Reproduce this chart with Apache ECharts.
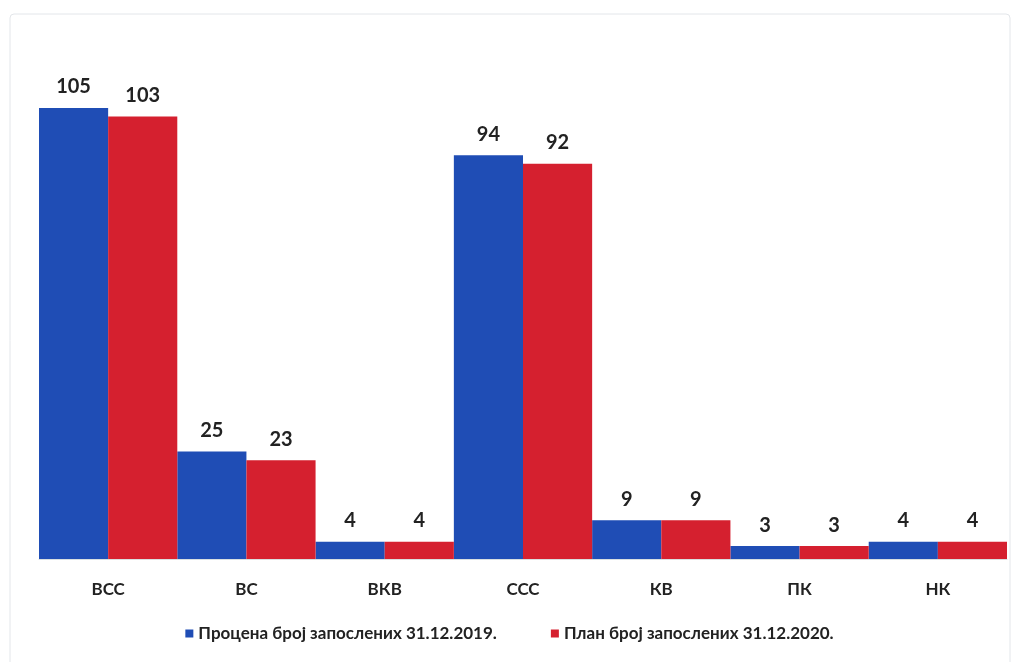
<!DOCTYPE html>
<html><head><meta charset="utf-8">
<script src="https://cdn.jsdelivr.net/npm/echarts@6/dist/echarts.min.js"></script>
<style>html,body{margin:0;padding:0;background:#fff}#c{width:1019px;height:662px}</style>
</head><body><div id="c"></div>
<script>
var categories = ['ВСС', 'ВС', 'ВКВ', 'ССС', 'КВ', 'ПК', 'НК'];
var seriesNames = ['Процена број запослених 31.12.2019.', 'План број запослених 31.12.2020.'];
var values2019 = [105, 25, 4, 94, 9, 3, 4];
var values2020 = [103, 23, 4, 92, 9, 3, 4];

var chart = echarts.init(document.getElementById('c'));
var font = 'Lato, "Open Sans", sans-serif';
var lbl = {show: true, position: 'top', distance: 11, color: '#222', fontFamily: font, fontWeight: 'bold', fontSize: 20};
chart.setOption({
  animation: false,
  backgroundColor: '#fff',
  graphic: [{type: 'rect', shape: {x: 10, y: 14, width: 1000, height: 660, r: 4}, style: {fill: 'none', stroke: '#e3e6ea', lineWidth: 1}, silent: true}],
  grid: {left: 39, right: 12, top: 108, bottom: 103, containLabel: false},
  legend: {bottom: 15, left: 'center', itemWidth: 8, itemHeight: 8, itemGap: 54, icon: 'rect',
    textStyle: {fontFamily: font, fontWeight: 'bold', fontSize: 17, color: '#222'}},
  xAxis: {type: 'category', data: categories,
    axisLine: {lineStyle: {color: '#d9dfe0'}}, axisTick: {show: false},
    axisLabel: {margin: 22, color: '#222', fontFamily: font, fontWeight: 'bold', fontSize: 17}},
  yAxis: {type: 'value', min: 0, max: 105, show: false, splitLine: {show: false}},
  series: [
    {name: seriesNames[0], type: 'bar', data: values2019, barGap: '0%', barCategoryGap: '0%', itemStyle: {color: '#1f4db5'}, label: lbl},
    {name: seriesNames[1], type: 'bar', data: values2020, itemStyle: {color: '#d5202f'}, label: lbl}
  ]
});
</script></body></html>
